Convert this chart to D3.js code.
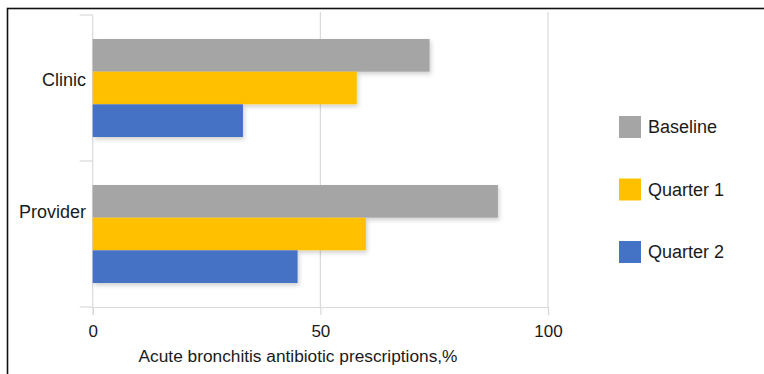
<!DOCTYPE html>
<html>
<head>
<meta charset="utf-8">
<script src="https://cdn.jsdelivr.net/npm/d3@7"></script>
<style>
  html, body { margin: 0; padding: 0; background: #fff; }
  svg { display: block; font-family: "Liberation Sans", Arial, Helvetica, sans-serif; }
</style>
</head>
<body>
<svg id="chart" width="764" height="374"></svg>
<script>
const categories = ["Clinic", "Provider"];
const series = ["Baseline", "Quarter 1", "Quarter 2"];
const baselineValues = [74, 89];
const quarter1Values = [58, 60];
const quarter2Values = [33, 45];
const xTickValues = [0, 50, 100];
const xAxisTitle = "Acute bronchitis antibiotic prescriptions,%";
const colors = ["#a5a5a5", "#ffc000", "#4472c4"];

const seriesValues = [baselineValues, quarter1Values, quarter2Values];
const data = categories.map((c, i) => ({
  category: c,
  values: series.map((s, j) => ({ series: s, value: seriesValues[j][i] }))
}));

const svg = d3.select("#chart");

const defs = svg.append("defs");
const f = defs.append("filter").attr("id", "shadow")
  .attr("x", "-5%").attr("y", "-20%").attr("width", "115%").attr("height", "160%");
f.append("feDropShadow").attr("dx", 1.5).attr("dy", 2.5).attr("stdDeviation", 2)
  .attr("flood-color", "#000").attr("flood-opacity", 0.18);

// outer frame (partly outside view)
svg.append("rect")
  .attr("x", 7.5).attr("y", 8.5).attr("width", 900).attr("height", 500)
  .attr("fill", "none").attr("stroke", "#111").attr("stroke-width", 1.6);

const plot = { left: 92.7, right: 548, top: 15, bottom: 307 };

const x = d3.scaleLinear().domain([0, 100]).range([plot.left, plot.right]);
const y = d3.scaleBand().domain(categories).range([plot.top, plot.bottom])
  .paddingInner(0.329).paddingOuter(0.1645);
const ySub = d3.scaleBand().domain(series).range([0, y.bandwidth()]);
const color = d3.scaleOrdinal().domain(series).range(colors);

const gridColor = "#d9d9d9";

// gridlines
svg.append("g").selectAll("line").data(xTickValues.filter(d => d > 0)).join("line")
  .attr("x1", d => x(d)).attr("x2", d => x(d))
  .attr("y1", plot.top - 3).attr("y2", plot.bottom)
  .attr("stroke", gridColor).attr("stroke-width", 1.2);

// y axis line and category boundary ticks
const boundaries = [plot.top].concat(categories.map(c => y(c) + y.bandwidth() + (y.step() - y.bandwidth()) / 2));
svg.append("line")
  .attr("x1", plot.left).attr("x2", plot.left)
  .attr("y1", plot.top).attr("y2", plot.bottom)
  .attr("stroke", gridColor).attr("stroke-width", 1.2);
svg.append("g").selectAll("line").data(boundaries).join("line")
  .attr("x1", plot.left - 13).attr("x2", plot.left)
  .attr("y1", d => d).attr("y2", d => d)
  .attr("stroke", gridColor).attr("stroke-width", 1.2);

// x axis
const xAxis = svg.append("g")
  .attr("transform", `translate(0,${plot.bottom})`)
  .call(d3.axisBottom(x).tickValues(xTickValues).tickSize(8).tickPadding(10));
xAxis.select(".domain").attr("stroke", gridColor).attr("stroke-width", 1.2);
xAxis.selectAll(".tick line").attr("stroke", gridColor).attr("stroke-width", 1.2);
xAxis.selectAll(".tick text")
  .attr("fill", "#1a1a1a").style("font-size", "17px")
  .style("font-family", "'Liberation Sans', Arial, sans-serif");

// axis title
svg.append("text")
  .attr("x", 298)
  .attr("y", 362)
  .attr("text-anchor", "middle")
  .attr("fill", "#1a1a1a")
  .style("font-size", "17.3px")
  .text(xAxisTitle);

// bars
const groups = svg.append("g").selectAll("g").data(data).join("g")
  .attr("transform", d => `translate(0,${y(d.category)})`);
groups.selectAll("rect").data(d => d.values).join("rect")
  .attr("x", x(0))
  .attr("y", d => ySub(d.series))
  .attr("width", d => x(d.value) - x(0))
  .attr("height", ySub.bandwidth())
  .attr("fill", d => color(d.series))
  .attr("filter", "url(#shadow)");

// category labels
const labelNudge = { "Clinic": -8, "Provider": -22 };
svg.append("g").selectAll("text").data(categories).join("text")
  .attr("x", 86)
  .attr("y", c => y(c) + y.bandwidth() / 2 + labelNudge[c])
  .attr("dy", "0.35em")
  .attr("text-anchor", "end")
  .attr("fill", "#1a1a1a")
  .style("font-size", "18px")
  .text(c => c);

// legend
const legend = svg.append("g").attr("transform", "translate(619,116)");
const items = legend.selectAll("g").data(series).join("g")
  .attr("transform", (d, i) => `translate(0,${i * 62.5})`);
items.append("rect").attr("width", 22).attr("height", 22).attr("fill", d => color(d));
items.append("text")
  .attr("x", 29).attr("y", 11).attr("dy", "0.35em")
  .attr("fill", "#1a1a1a").style("font-size", "18px")
  .text(d => d);
</script>
</body>
</html>
